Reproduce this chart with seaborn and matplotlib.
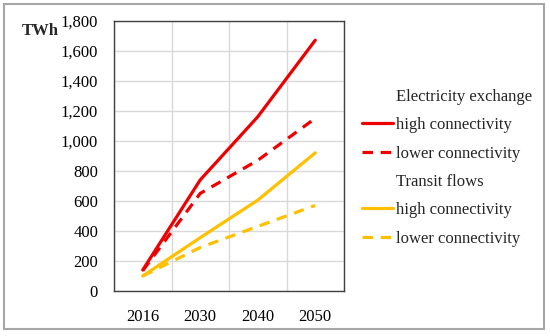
import pandas as pd
import matplotlib
matplotlib.use("Agg")
import matplotlib.pyplot as plt
import seaborn as sns
from matplotlib.lines import Line2D
from matplotlib.patches import Rectangle
from matplotlib.ticker import FuncFormatter, FixedLocator

# Data
years = ["2016", "2030", "2040", "2050"]
elec_high = [140, 740, 1160, 1670]
elec_low = [135, 650, 870, 1150]
transit_high = [100, 355, 605, 920]
transit_low = [100, 290, 430, 570]

red = "#EE0000"
gold = "#FFC000"

sns.set_style("white")
plt.rcParams["font.family"] = ["Liberation Serif", "DejaVu Serif"]

fig = plt.figure(figsize=(5.5, 3.36), dpi=100)
ax = fig.add_axes([114 / 550, 1 - 291 / 336, 230 / 550, 270.3 / 336])

series = [
    (elec_high, red, ""),
    (elec_low, red, (3.3, 2.4)),
    (transit_high, gold, ""),
    (transit_low, gold, (3.3, 2.4)),
]
for vals, col, dash in series:
    df = pd.DataFrame({"year": years, "TWh": vals})
    sns.lineplot(data=df, x="year", y="TWh", ax=ax, color=col, linewidth=2.3,
                 dashes=False, sort=False, zorder=3)
    if dash:
        ax.lines[-1].set_dashes(dash)

ax.set_xlim(-0.5, 3.5)
ax.set_ylim(0, 1800)
ax.set_yticks(range(0, 1801, 200))
ax.yaxis.set_major_formatter(FuncFormatter(lambda v, p: f"{int(v):,}"))
ax.xaxis.set_minor_locator(FixedLocator([-0.5, 0.5, 1.5, 2.5, 3.5]))
ax.set_xlabel("")
ax.set_ylabel("")

ax.grid(False)
ax.grid(axis="y", which="major", color="#d9d9d9", linewidth=1)
ax.grid(axis="x", which="minor", color="#d9d9d9", linewidth=1)
ax.set_axisbelow(True)

for s in ax.spines.values():
    s.set_visible(True)
    s.set_color("#404040")
    s.set_linewidth(1)

ax.tick_params(axis="x", which="major", length=0, labelsize=12, pad=13)
ax.tick_params(axis="x", which="minor", length=4, width=1, color="#404040", direction="out")
ax.tick_params(axis="y", which="major", length=7, width=1, color="#404040",
               direction="inout", labelsize=12, pad=8)
for lab in ax.get_yticklabels() + ax.get_xticklabels():
    lab.set_color("black")

fig.text(22 / 550, 1 - 31 / 336, "TWh", fontsize=12, fontweight="bold",
         ha="left", va="center")

blank = Line2D([], [], linestyle="none")
handles = [
    blank,
    Line2D([], [], color=red, linewidth=2.3),
    Line2D([], [], color=red, linewidth=2.3, dashes=(3.3, 2.4)),
    blank,
    Line2D([], [], color=gold, linewidth=2.3),
    Line2D([], [], color=gold, linewidth=2.3, dashes=(3.3, 2.4)),
]
labels = ["Electricity exchange", "high connectivity", "lower connectivity",
          "Transit flows", "high connectivity", "lower connectivity"]
fig.legend(handles, labels, loc="upper left", bbox_to_anchor=(362 / 550, 1 - 89 / 336),
           frameon=False, fontsize=12, handlelength=1.85, handletextpad=0.2,
           labelspacing=0.74, borderpad=0, borderaxespad=0)

fig.patches.append(Rectangle((4 / 550, 7 / 336), 540 / 550, 325 / 336,
                             transform=fig.transFigure, fill=False,
                             edgecolor="#a6a6a6", linewidth=1.5))

fig.savefig("out.png", dpi=100)
